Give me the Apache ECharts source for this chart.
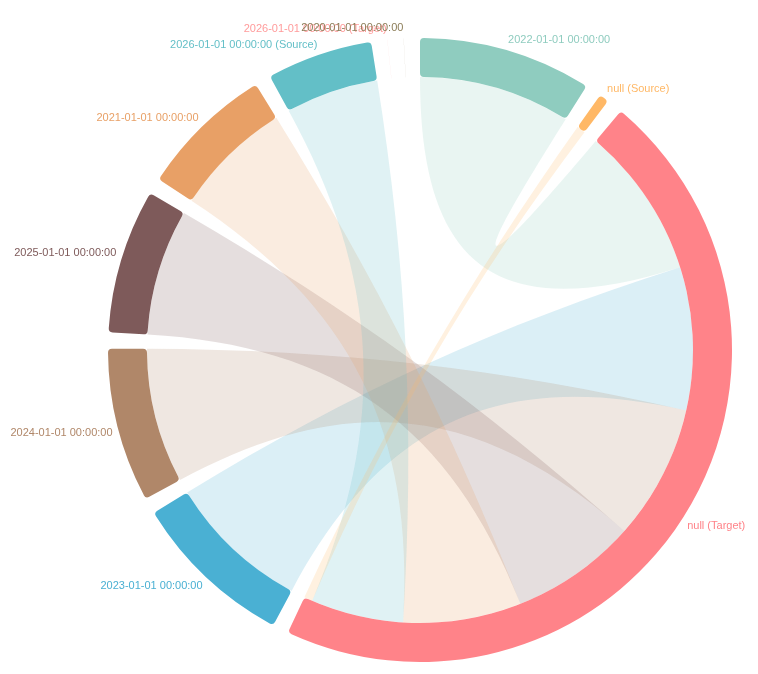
<!DOCTYPE html>
<html>
<head>
<meta charset="utf-8">
<script src="https://cdn.jsdelivr.net/npm/echarts@6/dist/echarts.min.js"></script>
<style>
  html, body { margin: 0; padding: 0; background: #fff; }
  #main { width: 758px; height: 674px; }
</style>
</head>
<body>
<div id="main"></div>
<script>
// 节点 (顺时针，从正上方开始)
var nodeNames = [
  '2022-01-01 00:00:00',
  'null (Source)',
  'null (Target)',
  '2023-01-01 00:00:00',
  '2024-01-01 00:00:00',
  '2025-01-01 00:00:00',
  '2021-01-01 00:00:00',
  '2026-01-01 00:00:00 (Source)',
  '2026-01-01 00:00:00 (Target)',
  '2020-01-01 00:00:00'
]
var nodeColors = [
  '#8fccbf', '#ffb866', '#ff8389', '#4ab0d3', '#b08769',
  '#7e5a5a', '#e8a066', '#63bfc7', '#ff9b9b', '#8c7d58'
]

// 连线
var linkSources = [
  '2022-01-01 00:00:00',
  '2023-01-01 00:00:00',
  '2024-01-01 00:00:00',
  '2025-01-01 00:00:00',
  '2021-01-01 00:00:00',
  '2026-01-01 00:00:00 (Source)',
  'null (Source)'
]
var linkTargets = [
  'null (Target)', 'null (Target)', 'null (Target)', 'null (Target)',
  'null (Target)', 'null (Target)', 'null (Target)'
]
var linkValues = [18, 17, 16, 15, 14, 11, 1]

var nodes = nodeNames.map(function (name) {
  return { name: name }
})
var links = linkSources.map(function (s, i) {
  return { source: s, target: linkTargets[i], value: linkValues[i] }
})

var myChart = echarts.init(document.getElementById('main'))
myChart.setOption({
  color: nodeColors,
  animation: false,
  series: [
    {
      type: 'chord',
      center: [420, 350],
      radius: [273, 312],
      startAngle: 90,
      clockwise: true,
      padAngle: 3,
      // 让没有连线的节点也占一个间隔，但几乎看不见
      minAngle: 0.01,
      label: {
        show: true,
        position: 'outside',
        fontSize: 11,
        fontFamily: 'Liberation Sans'
      },
      itemStyle: {
        borderRadius: 4
      },
      lineStyle: {
        color: 'source',
        opacity: 0.2
      },
      data: nodes,
      links: links
    }
  ]
})
</script>
</body>
</html>
